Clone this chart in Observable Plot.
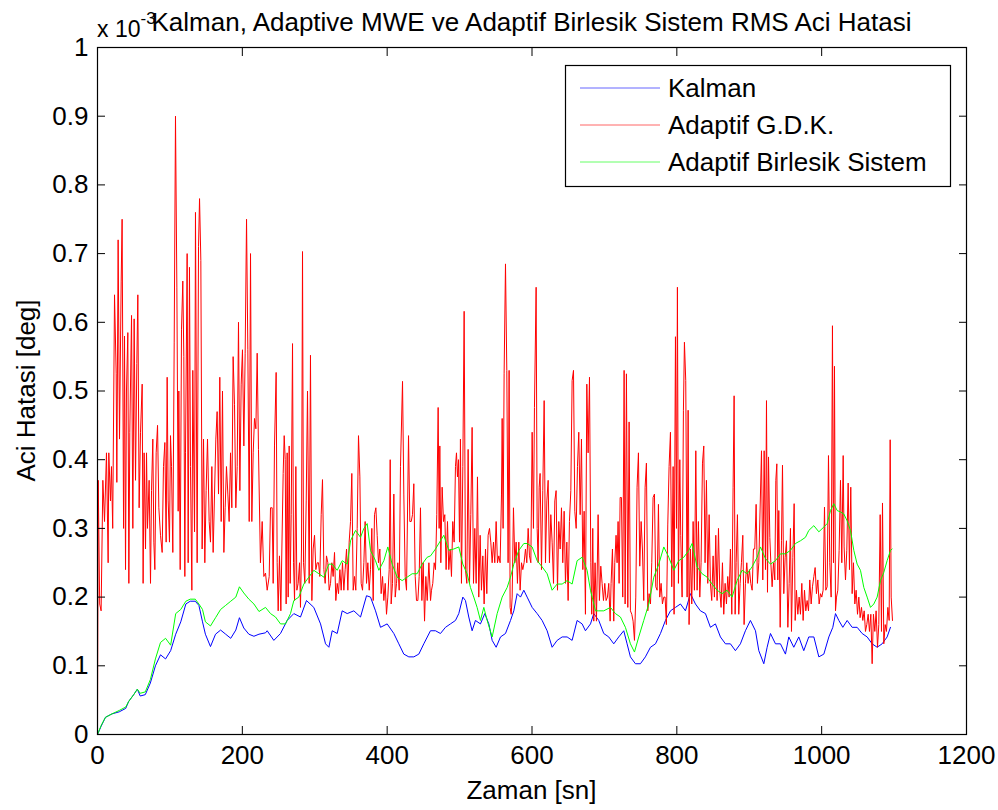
<!DOCTYPE html>
<html>
<head>
<meta charset="utf-8">
<script src="https://cdn.jsdelivr.net/npm/d3@7"></script>
<script src="https://cdn.jsdelivr.net/npm/@observablehq/plot@0.6"></script>
<style>
  html, body { margin: 0; padding: 0; background: #fff; }
  #chart { width: 998px; height: 810px; }
</style>
</head>
<body>
<div id="chart"></div>
<script>
// RMS angle error (units of 1e-3 deg) against time [s], as [time, error] pairs.
const kalman = [
  [0,0],[5,0.012],[11,0.025],[20,0.03],[30,0.033],[39,0.038],[43,0.048],[50,0.058],[55,0.066],[59,0.056],
  [66,0.058],[73,0.075],[80,0.1],[87,0.116],[94,0.11],[101,0.122],[108,0.146],[115,0.164],[122,0.19],[128,0.194],
  [135,0.194],[140,0.188],[145,0.164],[149,0.146],[156,0.128],[163,0.146],[170,0.152],[177,0.146],[184,0.14],[191,0.152],
  [196,0.17],[202,0.155],[209,0.146],[216,0.143],[223,0.146],[232,0.148],[234.3,0.151],[243.5,0.137],[252.7,0.147],[261.9,0.166],
  [271.1,0.176],[280.3,0.171],[288.6,0.195],[298.7,0.185],[308,0.161],[314.9,0.132],[319.5,0.127],[324.1,0.151],[331,0.147],[337.9,0.18],
  [344.8,0.176],[354,0.18],[363.2,0.171],[371.5,0.202],[377,0.2],[383.9,0.18],[390.8,0.156],[400,0.161],[409.2,0.147],[416.1,0.132],
  [423,0.117],[429.9,0.113],[436.8,0.113],[443.7,0.117],[450.6,0.132],[459.8,0.151],[466.7,0.151],[473.6,0.147],[480.5,0.156],[487.4,0.161],
  [494.3,0.166],[498.9,0.176],[504.5,0.2],[508.1,0.195],[512.7,0.171],[517.3,0.151],[521.9,0.166],[528.8,0.161],[534.8,0.176],[540.4,0.161],
  [545,0.137],[550.5,0.127],[556.5,0.142],[563.4,0.147],[570.3,0.166],[574.9,0.18],[579.5,0.205],[584.1,0.2],[588.7,0.21],[593.3,0.2],
  [600.2,0.185],[607.1,0.176],[614,0.166],[620.9,0.151],[627.8,0.127],[634.7,0.137],[641.6,0.142],[648.5,0.142],[655.4,0.137],[662.3,0.166],
  [669.2,0.161],[673.8,0.151],[680.8,0.161],[685.3,0.176],[692.2,0.166],[699.1,0.147],[706,0.142],[712.9,0.132],[719.8,0.142],[726.7,0.151],
  [731.3,0.132],[735.9,0.113],[742.8,0.103],[749.7,0.103],[756.6,0.113],[763.6,0.127],[770.5,0.132],[777.4,0.147],[784.3,0.166],[791.2,0.18],
  [798.1,0.185],[805,0.19],[811.9,0.18],[818.8,0.205],[825.7,0.19],[832.6,0.18],[839.5,0.176],[846.4,0.156],[853.3,0.161],[860.2,0.142],
  [867.1,0.132],[874,0.132],[880.9,0.122],[887.8,0.132],[894.7,0.151],[901.6,0.166],[908.6,0.151],[913.2,0.122],[920.1,0.103],[924.7,0.127],
  [929.3,0.147],[936.2,0.132],[943.1,0.132],[950,0.117],[954.6,0.142],[961.5,0.127],[968.4,0.142],[975.3,0.122],[982.2,0.142],[989.2,0.142],
  [996.1,0.113],[1003,0.117],[1009.9,0.142],[1015.4,0.156],[1019.1,0.176],[1023.7,0.166],[1029.2,0.156],[1035.2,0.166],[1042.1,0.156],[1049,0.156],
  [1055.9,0.147],[1062.8,0.142],[1069.7,0.132],[1076.6,0.127],[1083.5,0.132],[1090.4,0.142],[1095,0.156]
];

const gdk = [
  [0,0],[1,0.37],[3,0.19],[5,0.18],[7.4,0.37],[9.7,0.31],[12.4,0.41],[14.7,0.25],[15.6,0.41],[17.9,0.34],
  [19.3,0.39],[21,0.3],[23.5,0.64],[25.8,0.525],[26.7,0.367],[28.5,0.72],[30.4,0.43],[32.7,0.66],[34,0.75],[36,0.3],
  [37.3,0.58],[38.7,0.24],[40,0.5],[41.9,0.585],[43.3,0.22],[44.6,0.44],[47,0.61],[48.8,0.3],[50.6,0.605],[52.5,0.37],
  [54.3,0.54],[55.7,0.64],[57.5,0.33],[59.4,0.44],[61.7,0.51],[63,0.22],[64.4,0.41],[66.3,0.27],[67.7,0.41],[69,0.3],
  [71.3,0.37],[73.2,0.22],[74.6,0.355],[76.4,0.43],[77.8,0.28],[79.2,0.24],[81,0.41],[82.9,0.45],[84.7,0.33],[87,0.29],
  [89.3,0.265],[91.1,0.39],[93,0.425],[94.8,0.28],[96.2,0.52],[97.6,0.34],[99.4,0.28],[100.8,0.435],[102.2,0.39],[104,0.265],
  [105.9,0.57],[107.7,0.9],[109.6,0.65],[111.4,0.325],[112.3,0.5],[114.2,0.24],[116,0.59],[117.8,0.66],[119.2,0.55],[120.6,0.23],
  [121.5,0.41],[123.8,0.7],[125.2,0.25],[127,0.68],[128.4,0.39],[130.3,0.21],[131.6,0.53],[134,0.295],[135.3,0.76],[137.6,0.25],
  [139.5,0.71],[140.9,0.78],[142.7,0.69],[144.5,0.27],[146.4,0.43],[148.2,0.25],[150,0.355],[151.9,0.43],[154.2,0.31],[156,0.28],
  [157.9,0.39],[159.7,0.265],[161.6,0.35],[163.4,0.43],[165.2,0.47],[167.1,0.35],[168.9,0.52],[170.8,0.31],[172.6,0.5],[174.5,0.265],
  [176.3,0.33],[178.1,0.39],[180,0.35],[181.8,0.31],[183.7,0.41],[185.5,0.33],[187.3,0.55],[189.2,0.48],[191,0.33],[192.9,0.39],
  [194.7,0.6],[196.6,0.355],[198.4,0.51],[200.2,0.56],[202.1,0.42],[203.9,0.555],[205.8,0.75],[207.6,0.56],[209.5,0.31],[211.3,0.7],
  [213.1,0.31],[215,0.41],[216.8,0.46],[218.7,0.445],[220.5,0.555],[222.3,0.415],[225,0.25],[227.4,0.31],[229.7,0.23],[232,0.235],
  [234.3,0.21],[237.1,0.23],[238.9,0.33],[241.2,0.33],[242.6,0.22],[244.4,0.42],[246.7,0.527],[248.1,0.25],[249.5,0.18],[251.3,0.26],
  [253.2,0.18],[254.6,0.27],[256.4,0.38],[257.8,0.435],[259.2,0.4],[260.5,0.19],[261.9,0.41],[263.3,0.2],[264.7,0.42],[266.1,0.22],
  [267.5,0.32],[269.3,0.569],[270.7,0.25],[272.1,0.195],[273.9,0.39],[275.3,0.21],[277.1,0.22],[279,0.25],[280.3,0.185],[281.7,0.27],
  [283.1,0.703],[284.5,0.25],[286.3,0.22],[288.2,0.34],[290,0.5],[292.3,0.22],[294.1,0.552],[296,0.195],[297.8,0.27],[299.7,0.29],
  [301.5,0.24],[303.4,0.25],[305.2,0.25],[307,0.23],[308.9,0.32],[310.7,0.371],[312.6,0.24],[314.4,0.22],[316.2,0.26],[318.1,0.25],
  [319.9,0.21],[321.8,0.22],[323.6,0.25],[325.4,0.23],[327.3,0.265],[329.1,0.195],[331,0.22],[332.8,0.205],[334.7,0.24],[336.5,0.21],
  [338.3,0.25],[340.2,0.21],[342,0.24],[343.9,0.27],[345.7,0.21],[347.5,0.28],[349.4,0.31],[351.2,0.38],[353.1,0.21],[354.9,0.23],
  [356.7,0.21],[358.6,0.3],[360.4,0.435],[362.3,0.375],[364.1,0.22],[366,0.21],[367.8,0.25],[369.6,0.31],[371.5,0.22],[373.3,0.25],
  [375.2,0.21],[377,0.24],[378.8,0.3],[380.7,0.195],[382.5,0.32],[384.4,0.33],[386.2,0.29],[388,0.25],[389.9,0.27],[391.7,0.205],
  [393.6,0.23],[395.4,0.195],[397.3,0.22],[399.1,0.175],[400.9,0.2],[402.8,0.24],[404.2,0.4],[405.5,0.19],[407.4,0.22],[409.2,0.35],
  [411.1,0.2],[412.9,0.22],[414.7,0.25],[416.6,0.21],[418.4,0.39],[421.2,0.514],[423,0.35],[424.9,0.23],[426.7,0.21],[429.5,0.435],
  [431.3,0.31],[433.2,0.31],[435,0.32],[436.8,0.365],[438.7,0.23],[440.5,0.195],[442.4,0.195],[444.2,0.23],[446,0.33],[447.9,0.195],
  [449.7,0.25],[451.6,0.165],[453.4,0.23],[455.3,0.195],[457.6,0.25],[459.9,0.195],[461.2,0.21],[463,0.22],[464.9,0.25],[466.7,0.24],
  [468.5,0.32],[470.4,0.476],[471.8,0.3],[472.7,0.42],[474.1,0.25],[475.9,0.36],[477.8,0.31],[479.6,0.32],[481.4,0.24],[483.3,0.31],
  [485.1,0.24],[487,0.27],[488.8,0.23],[490.6,0.31],[492.5,0.28],[494.3,0.39],[495.7,0.41],[497.1,0.375],[498.5,0.4],[499.9,0.28],
  [501.2,0.43],[502.6,0.22],[504.5,0.39],[506.3,0.616],[508.1,0.24],[510,0.22],[511.8,0.415],[513.7,0.22],[515.5,0.32],[517.3,0.447],
  [519.2,0.22],[521,0.3],[522.9,0.22],[524.7,0.375],[526.5,0.2],[528.4,0.29],[530.2,0.21],[532.1,0.26],[533.9,0.19],[535.8,0.27],
  [537.6,0.205],[539.4,0.29],[541.3,0.3],[543.1,0.28],[545,0.25],[546.8,0.28],[548.6,0.25],[550.5,0.31],[552.3,0.25],[554.2,0.26],
  [556,0.25],[557.9,0.35],[558.8,0.46],[560.1,0.3],[561.5,0.525],[563.4,0.685],[565.2,0.53],[567,0.25],[568.4,0.53],[569.8,0.185],
  [571.2,0.175],[572.6,0.2],[574.4,0.33],[576.3,0.25],[578.1,0.28],[579.9,0.22],[581.8,0.28],[583.6,0.21],[585.5,0.25],[587.3,0.24],
  [589.1,0.25],[591,0.27],[592.8,0.25],[594.7,0.3],[596.5,0.26],[598.4,0.25],[600.2,0.44],[602,0.3],[603.4,0.476],[605.7,0.651],
  [607.1,0.3],[608.5,0.25],[609.9,0.36],[611.2,0.38],[613.1,0.24],[614.9,0.355],[616.8,0.486],[618.6,0.25],[620.5,0.34],[622.3,0.37],
  [624.1,0.25],[626,0.32],[627.8,0.28],[629.7,0.22],[631.5,0.34],[633.3,0.355],[635.2,0.21],[637,0.31],[638.9,0.27],[640.7,0.33],
  [642.5,0.25],[644.4,0.325],[646.2,0.22],[648.1,0.28],[649.9,0.195],[651.7,0.31],[653.6,0.355],[655.4,0.515],[657.3,0.53],[659.1,0.325],
  [661,0.3],[662.8,0.39],[664.6,0.44],[666.5,0.32],[668.3,0.43],[670.2,0.24],[672,0.325],[673.8,0.175],[675.7,0.51],[677.5,0.41],
  [679.4,0.52],[681.2,0.25],[682.5,0.175],[683.9,0.3],[685.3,0.165],[687.1,0.25],[689,0.165],[691.3,0.32],[693.1,0.195],[695,0.245],
  [696.8,0.22],[698.7,0.195],[700.5,0.22],[702.3,0.195],[704.2,0.2],[706,0.22],[707.9,0.165],[709.2,0.22],[711.1,0.27],[712.9,0.165],
  [714.3,0.25],[716.1,0.29],[717.5,0.25],[718.9,0.31],[720.3,0.22],[721.7,0.345],[723.5,0.345],[725.3,0.2],[727.2,0.53],[728.6,0.19],
  [730.4,0.525],[732.3,0.185],[734.1,0.455],[735.9,0.18],[737.8,0.175],[739.6,0.165],[741.5,0.137],[743.3,0.2],[745.1,0.36],[747,0.41],
  [748.8,0.245],[750.7,0.31],[752.5,0.27],[754.3,0.195],[756.2,0.36],[758,0.395],[759.9,0.18],[761.7,0.205],[763.6,0.19],[765.4,0.25],
  [767.2,0.345],[769.1,0.35],[770.9,0.215],[772.8,0.21],[774.6,0.335],[776.4,0.2],[778.3,0.22],[780.1,0.19],[782,0.2],[783.8,0.2],
  [785.6,0.16],[787.5,0.305],[789.3,0.39],[791.2,0.44],[793,0.215],[794.9,0.39],[796.2,0.175],[798.1,0.579],[799.5,0.3],[800.8,0.651],
  [802.2,0.22],[804.1,0.4],[805.4,0.29],[807.3,0.2],[809.1,0.472],[810.5,0.571],[812.3,0.515],[814.2,0.2],[815.6,0.472],[816.9,0.16],
  [818.8,0.27],[820.6,0.19],[822.5,0.31],[824.3,0.21],[826.2,0.413],[828,0.21],[829.8,0.31],[831.7,0.2],[833.5,0.25],[835.4,0.395],
  [837.2,0.42],[839,0.25],[840.9,0.37],[842.7,0.22],[844.6,0.32],[846.4,0.22],[848.2,0.195],[850.1,0.26],[851.9,0.2],[853.8,0.29],
  [855.6,0.195],[857.5,0.3],[859.3,0.21],[861.1,0.185],[863,0.25],[864.8,0.175],[866.7,0.22],[868.5,0.19],[870.3,0.23],[872.2,0.2],
  [874,0.27],[875.9,0.175],[877.7,0.36],[879.1,0.493],[880.5,0.175],[881.9,0.25],[883.7,0.32],[885.5,0.175],[887.4,0.22],[889.2,0.25],
  [891.1,0.29],[892.9,0.16],[894.7,0.22],[896.6,0.25],[898.4,0.22],[900.3,0.24],[902.1,0.22],[904,0.21],[905.8,0.27],[907.6,0.27],
  [909.5,0.335],[911.3,0.22],[913.2,0.25],[916.9,0.413],[918.7,0.225],[920.6,0.413],[922.4,0.24],[923.8,0.486],[925.2,0.207],[926.6,0.404],
  [928.4,0.287],[929.8,0.25],[931.6,0.215],[933.5,0.25],[935.3,0.225],[936.7,0.37],[938.1,0.394],[939.4,0.225],[940.8,0.326],[942.7,0.156],
  [944.5,0.282],[945.9,0.392],[947.7,0.205],[949.6,0.258],[951.4,0.282],[953.3,0.156],[955.1,0.22],[956.9,0.3],[958.3,0.15],[960.2,0.258],
  [962,0.336],[963.4,0.166],[965.2,0.21],[967.1,0.175],[968.9,0.2],[970.7,0.175],[972.6,0.22],[974.4,0.166],[976.3,0.21],[978.1,0.18],
  [979.9,0.195],[981.8,0.18],[983.6,0.225],[985.5,0.19],[987.3,0.215],[989.2,0.23],[991,0.243],[992.8,0.205],[994.7,0.225],[996.5,0.19],
  [998.4,0.205],[1000.2,0.2],[1002,0.21],[1003.9,0.331],[1005.7,0.21],[1007.6,0.215],[1009.4,0.406],[1011.2,0.25],[1013.1,0.2],[1014.9,0.595],
  [1016.3,0.25],[1017.7,0.536],[1019.1,0.18],[1020.5,0.2],[1022.3,0.21],[1024.1,0.268],[1026,0.37],[1027.8,0.25],[1029.7,0.406],[1031,0.273],
  [1032.9,0.225],[1034.7,0.268],[1036.6,0.366],[1038.4,0.24],[1040.2,0.36],[1042.1,0.205],[1043.9,0.25],[1045.8,0.19],[1047.6,0.21],[1049.5,0.175],
  [1051.3,0.2],[1053.1,0.17],[1055,0.185],[1056.8,0.166],[1058.7,0.18],[1060.5,0.15],[1062.3,0.16],[1064.2,0.175],[1066,0.15],[1067.9,0.175],
  [1069.7,0.103],[1071.5,0.175],[1073.4,0.15],[1075.2,0.18],[1077.1,0.127],[1078.9,0.16],[1080.8,0.32],[1082.6,0.15],[1084,0.337],[1085.8,0.132],
  [1087.7,0.16],[1089.5,0.15],[1091.4,0.185],[1093.2,0.166],[1094.6,0.429],[1096,0.2],[1097.8,0.166]
];

const birlesik = [
  [0,0],[5,0.013],[11,0.025],[20,0.03],[30,0.035],[39,0.04],[43,0.048],[50,0.058],[55,0.066],[59,0.06],
  [66,0.062],[73,0.08],[80,0.11],[87,0.134],[94,0.14],[101,0.13],[108,0.176],[115,0.182],[122,0.194],[128,0.197],
  [135,0.197],[140,0.19],[145,0.182],[149,0.164],[156,0.158],[163,0.17],[170,0.182],[177,0.188],[184,0.194],[191,0.2],
  [196,0.215],[202,0.206],[209,0.197],[216,0.19],[223,0.179],[232,0.185],[238.9,0.176],[245.8,0.171],[252.7,0.161],[259.6,0.161],
  [266.5,0.176],[271.1,0.195],[278,0.2],[284.9,0.219],[291.8,0.229],[298.7,0.239],[305.7,0.234],[312.6,0.229],[319.5,0.248],[324.1,0.248],
  [331,0.239],[337.9,0.253],[344.8,0.248],[349.4,0.282],[356.3,0.297],[363.2,0.287],[367.8,0.3],[372.4,0.307],[377,0.268],[383.9,0.253],
  [388.5,0.239],[395.4,0.253],[400.9,0.273],[406.9,0.248],[413.8,0.229],[420.7,0.224],[427.6,0.229],[434.5,0.234],[441.4,0.234],[448.3,0.248],
  [455.2,0.258],[459.9,0.26],[466.7,0.27],[473.6,0.282],[478.2,0.29],[485.1,0.268],[492,0.27],[498.9,0.273],[504.5,0.248],[510.4,0.234],
  [515,0.214],[519.6,0.2],[524.2,0.185],[528.8,0.166],[533.5,0.185],[538.1,0.166],[545,0.142],[551.9,0.176],[558.8,0.2],[565.7,0.214],
  [570.3,0.229],[574.9,0.248],[581.8,0.268],[588.7,0.278],[593.3,0.278],[600.2,0.273],[607.1,0.253],[614,0.244],[620.9,0.234],[627.8,0.21],
  [634.7,0.219],[641.6,0.219],[648.5,0.224],[655.4,0.219],[662.3,0.253],[669.2,0.258],[676.1,0.239],[680.7,0.21],[683.1,0.2],[687.7,0.18],
  [692.2,0.18],[699.1,0.18],[708.3,0.185],[715.2,0.176],[722.1,0.171],[729,0.156],[735.9,0.132],[741.5,0.12],[747.4,0.142],[754.3,0.166],
  [761.3,0.19],[768.2,0.229],[775.1,0.248],[782,0.273],[788.9,0.258],[795.8,0.239],[802.7,0.253],[809.6,0.258],[816.5,0.268],[821.1,0.278],
  [828,0.244],[834.9,0.234],[841.8,0.229],[848.7,0.219],[855.6,0.21],[862.5,0.205],[869.4,0.21],[876.3,0.2],[883.2,0.224],[890.1,0.239],
  [897,0.234],[903.9,0.244],[910.9,0.258],[915.5,0.273],[922.4,0.256],[929.3,0.248],[936.2,0.253],[943.1,0.263],[950,0.263],[956.9,0.268],
  [963.8,0.278],[970.7,0.282],[977.6,0.287],[982.2,0.297],[989.2,0.304],[996.1,0.295],[1003,0.302],[1007.6,0.307],[1012.2,0.326],[1016.8,0.336],
  [1021.4,0.326],[1026,0.324],[1030.6,0.321],[1035.2,0.311],[1039.8,0.297],[1044.4,0.268],[1049,0.248],[1053.6,0.239],[1058.2,0.214],[1062.8,0.2],
  [1067.4,0.185],[1072,0.19],[1076.6,0.2],[1081.2,0.224],[1085.8,0.236],[1090.4,0.253],[1095,0.268],[1097.3,0.27]
];

const seriesNames = ["Kalman", "Adaptif G.D.K.", "Adaptif Birlesik Sistem"];
const seriesColors = ["#0000ff", "#ff0000", "#00ff00"];
const xTicks = [0, 200, 400, 600, 800, 1000, 1200];
const yTicks = [0, 0.1, 0.2, 0.3, 0.4, 0.5, 0.6, 0.7, 0.8, 0.9, 1];

const titleText = "Kalman, Adaptive MWE ve Adaptif Birlesik Sistem RMS Aci Hatasi";
const xLabel = "Zaman [sn]";
const yLabel = "Aci Hatasi [deg]";
const exponentBase = "x 10";
const exponentPower = "-3";

// One long table; draw order: Kalman, then G.D.K., then the combined system on top.
const rows = [kalman, gdk, birlesik].flatMap((pts, i) =>
  pts.map(([t, v]) => ({t, v, series: seriesNames[i]}))
);

const W = 998, H = 810;
const margin = {left: 97, right: 32, top: 47, bottom: 76};
const font = "'Liberation Sans', Arial, Helvetica, sans-serif";
const fs = 26;

const chart = Plot.plot({
  width: W,
  height: H,
  marginLeft: margin.left,
  marginRight: margin.right,
  marginTop: margin.top,
  marginBottom: margin.bottom,
  style: {fontFamily: font, fontSize: fs + "px", background: "#fff", color: "#000", overflow: "visible"},
  x: {domain: [0, 1200]},
  y: {domain: [0, 1]},
  color: {domain: seriesNames, range: seriesColors},
  marks: [
    Plot.line(rows, {x: "t", y: "v", z: "series", stroke: "series", strokeWidth: 1}),
    Plot.axisX({ticks: xTicks, tickSize: -8, tickPadding: 19, tickFormat: d => String(d), label: null, stroke: "#000", fill: "#000"}),
    Plot.axisX({anchor: "top", ticks: xTicks, tickSize: -8, tickFormat: () => "", label: null, stroke: "#000"}),
    Plot.axisY({ticks: yTicks, tickSize: -8, tickPadding: 17, tickFormat: d => String(d), label: null, stroke: "#000", fill: "#000"}),
    Plot.axisY({anchor: "right", ticks: yTicks, tickSize: -8, tickFormat: () => "", label: null, stroke: "#000"}),
    Plot.frame({stroke: "#000", strokeWidth: 1.2})
  ]
});

document.getElementById("chart").appendChild(chart);

const svg = d3.select(chart);
const px0 = margin.left, px1 = W - margin.right;
const py0 = margin.top, py1 = H - margin.bottom;

// Title, multiplier and axis labels
svg.append("text")
  .attr("x", (px0 + px1) / 2).attr("y", 31)
  .attr("text-anchor", "middle")
  .style("font-family", font).style("font-size", fs + "px")
  .text(titleText);

const expo = svg.append("text")
  .attr("x", px0).attr("y", 37)
  .attr("text-anchor", "start")
  .style("font-family", font).style("font-size", "23px");
expo.append("tspan").text(exponentBase);
expo.append("tspan").attr("dy", -13).style("font-size", "17px").text(exponentPower);

svg.append("text")
  .attr("x", (px0 + px1) / 2).attr("y", 799)
  .attr("text-anchor", "middle")
  .style("font-family", font).style("font-size", fs + "px")
  .text(xLabel);

svg.append("text")
  .attr("transform", `translate(35,${(py0 + py1) / 2}) rotate(-90)`)
  .attr("text-anchor", "middle")
  .style("font-family", font).style("font-size", fs + "px")
  .text(yLabel);

// Legend box
const leg = svg.append("g");
leg.append("rect")
  .attr("x", 565.5).attr("y", 65.5).attr("width", 385).attr("height", 121)
  .attr("fill", "#fff").attr("stroke", "#000").attr("stroke-width", 1.2);
seriesNames.forEach((name, i) => {
  const y = 88 + i * 37;
  leg.append("line")
    .attr("x1", 580).attr("x2", 660).attr("y1", y).attr("y2", y)
    .attr("stroke", seriesColors[i]).attr("stroke-opacity", 0.6).attr("stroke-width", 1);
  leg.append("text")
    .attr("x", 668).attr("y", y).attr("dy", "0.35em")
    .attr("text-anchor", "start")
    .style("font-family", font).style("font-size", fs + "px")
    .text(name);
});
</script>
</body>
</html>
